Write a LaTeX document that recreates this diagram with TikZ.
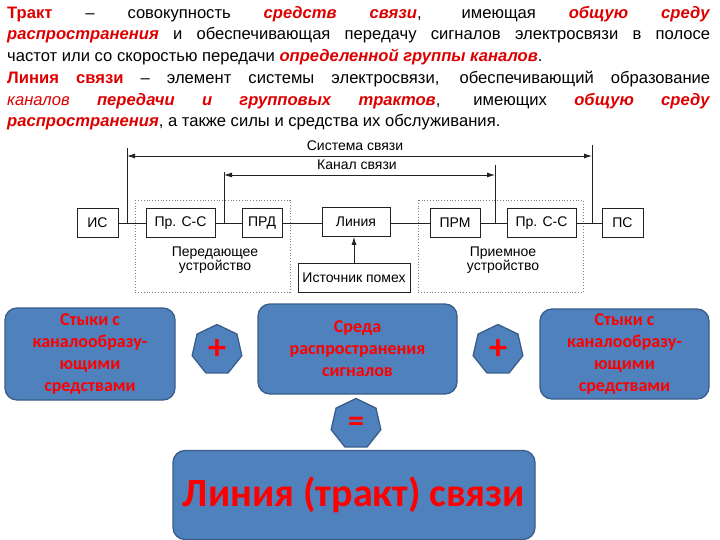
\documentclass[tikz,border=0pt]{standalone}
\usepackage{fontspec}
\setmainfont{Liberation Sans}
\newfontfamily\calfont{Carlito}
\usetikzlibrary{arrows.meta,shapes.geometric}
\definecolor{defred}{RGB}{220,0,0}
\definecolor{boxblue}{RGB}{79,129,189}
\definecolor{boxedge}{RGB}{56,93,138}
\definecolor{schemeline}{RGB}{35,35,35}
\newcommand{\termb}[1]{\textcolor{defred}{\textbf{#1}}}
\newcommand{\termbi}[1]{\textcolor{defred}{\textbf{\textit{#1}}}}
\newcommand{\termi}[1]{\textcolor{defred}{\textit{#1}}}
\begin{document}
\begin{tikzpicture}[x=1pt, y=-1pt,
  block/.style={draw=schemeline, thick, minimum height=29pt, inner sep=1pt, font=\fontsize{14}{14}\selectfont},
  devbox/.style={draw=gray, dotted, thick},
  blueblock/.style={draw=boxedge, line width=1.3pt, fill=boxblue, rounded corners=12pt, align=center, text=red, font=\calfont\bfseries\fontsize{18}{22}\selectfont},
  sign/.style={draw=boxedge, line width=1.3pt, fill=boxblue, regular polygon, regular polygon sides=7, minimum size=51pt, inner sep=0pt, text=red, font=\calfont\bfseries\fontsize{36}{36}\selectfont}]
\useasboundingbox (0,0) rectangle (720,540);

% definitions
\node[anchor=north west, text width=703pt, align=justify, inner sep=0pt, font=\fontsize{16.6}{21.6}\selectfont] (def trakt) at (7,6)
  {\termb{Тракт} -- совокупность \termbi{средств связи}, имеющая \termbi{общую среду}\linebreak
   \termbi{распространения} и обеспечивающая передачу сигналов электросвязи в полосе\linebreak
   частот или со скоростью передачи \termbi{определенной группы каналов}.};
\node[anchor=north west, text width=703pt, align=justify, inner sep=0pt, font=\fontsize{16.6}{21.6}\selectfont] (def liniya) at (7,71)
  {\termb{Линия связи} -- элемент системы электросвязи, обеспечивающий образование\linebreak
   \termi{каналов} \termbi{передачи и групповых трактов}, имеющих \termbi{общую среду}\linebreak
   \termbi{распространения}, а также силы и средства их обслуживания.};

% scheme
\draw[devbox] (135,200) rectangle (290,292);
\draw[devbox] (418,200) rectangle (583,292);
\node[align=center, font=\fontsize{14}{14}\selectfont] (prd label) at (215,260) {Передающее\\устройство};
\node[align=center, font=\fontsize{14}{14}\selectfont] (prm label) at (503,260) {Приемное\\устройство};

\node[block, minimum width=41pt] (IS) at (97.5,223) {ИС};
\node[block, minimum width=69pt] (Pr CC 1) at (180.5,223) {Пр. С-С};
\node[block, minimum width=40pt] (PRD) at (262,223) {ПРД};
\node[block, minimum width=68pt] (Liniya) at (356,222) {Линия};
\node[block, minimum width=50pt] (PRM) at (455,223) {ПРМ};
\node[block, minimum width=69pt] (Pr CC 2) at (541.5,223) {Пр. С-С};
\node[block, minimum width=41pt] (PS) at (622.5,223) {ПС};
\node[block, minimum width=112pt] (Istochnik) at (354,278) {Источник помех};

\draw[schemeline, thick] (IS) -- (Pr CC 1) -- (PRD) -- (PRD -| Liniya.west);
\draw[schemeline, thick] (PRM -| Liniya.east) -- (PRM) -- (Pr CC 2) -- (PS);
\draw[schemeline, thick, -{Latex[length=8pt,width=5pt]}] (Istochnik) -- (Istochnik |- Liniya.south);

\coordinate (sys L) at (127,148);
\coordinate (sys R) at (592,145);
\coordinate (kan L) at (224,172);
\coordinate (kan R) at (495,165);
\draw[schemeline, thick] (sys L) -- (sys L |- IS);
\draw[schemeline, thick] (sys R) -- (sys R |- PS);
\draw[schemeline, thick] (kan L) -- (kan L |- PRD);
\draw[schemeline, thick] (kan R) -- (kan R |- PRM);
\draw[schemeline, thick, {Latex[length=8pt,width=5pt]}-{Latex[length=8pt,width=5pt]}] (sys L |- 0,156) -- (sys R |- 0,156);
\draw[schemeline, thick, {Latex[length=8pt,width=5pt]}-{Latex[length=8pt,width=5pt]}] (kan L |- 0,175) -- (kan R |- 0,175);
\node[font=\fontsize{14}{14}\selectfont] (sys label) at (355,146) {Система связи};
\node[font=\fontsize{14}{14}\selectfont] (kan label) at (357,165) {Канал связи};

% sum
\node[blueblock, minimum width=170pt, minimum height=92pt] (styki 1) at (90,354) {Стыки с\\каналообразу-\\ющими\\средствами};
\node[sign] (plus 1) at (217,350) {+};
\node[blueblock, minimum width=199pt, minimum height=90pt] (sreda) at (357.5,349) {Среда\\распространения\\сигналов};
\node[sign] (plus 2) at (498,350) {+};
\node[blueblock, minimum width=169pt, minimum height=90pt] (styki 2) at (624.5,354) {Стыки с\\каналообразу-\\ющими\\средствами};
\node[sign, font=\calfont\bfseries\fontsize{32}{32}\selectfont] (equals) at (356,424) {=};
\node[blueblock, minimum width=362pt, minimum height=89pt, font=\calfont\bfseries\fontsize{40}{40}\selectfont] (liniya trakt) at (354,495) {Линия (тракт) связи};
\end{tikzpicture}
\end{document}
